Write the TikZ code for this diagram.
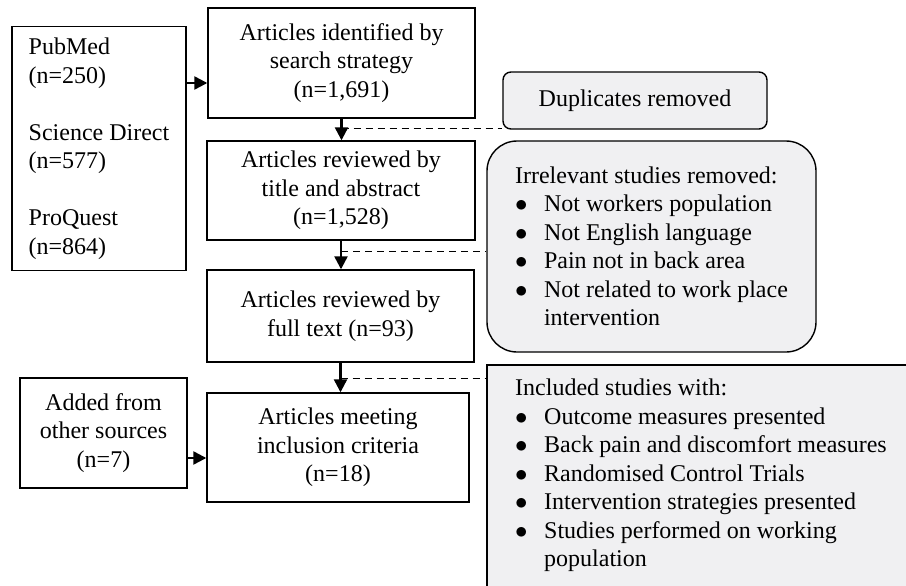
\documentclass[tikz,border=0pt]{standalone}
\usepackage{fontspec}
\setmainfont{Liberation Serif}
\usetikzlibrary{arrows.meta,calc}
\definecolor{boxgrey}{RGB}{240,240,242}
\newcommand\bulitem{\hspace*{0pt}\makebox[29pt][l]{$\bullet$}}
\begin{document}
\begin{tikzpicture}[x=1pt,y=-1pt,
  every node/.style={font=\fontsize{24}{28.5}\selectfont, inner sep=0pt},
  plain/.style={draw, line width=1.4pt, align=center},
  greybox/.style={draw, line width=1.4pt, fill=boxgrey},
  arr/.style={line width=2.4pt, -{Triangle[length=13pt,width=13pt]}},
  dsh/.style={line width=1.3pt, dash pattern=on 7pt off 5pt}]
\useasboundingbox (0,0) rectangle (906,586);

% left column and main flow
\node[plain, minimum width=174pt, minimum height=244pt, align=left] (src) at (99,148.5)
  {PubMed\\(n=250)\\[28.5pt]Science Direct\\(n=577)\\[28.5pt]ProQuest\\(n=864)};
\node[plain, minimum width=267pt, minimum height=110pt] (b1) at (341.5,63)
  {Articles identified by\\search strategy\\(n=1,691)};
\node[plain, minimum width=268pt, minimum height=99pt] (b2) at (341,190.5)
  {Articles reviewed by\\title and abstract\\(n=1,528)};
\node[plain, minimum width=267pt, minimum height=92pt] (b3) at (340.5,316)
  {Articles reviewed by\\full text (n=93)};
\node[plain, minimum width=262pt, minimum height=109pt] (b4) at (338,447.5)
  {Articles meeting\\inclusion criteria\\(n=18)};
\node[plain, minimum width=167pt, minimum height=110pt] (add) at (103.5,433)
  {Added from\\other sources\\(n=7)};

% right column
\node[greybox, rounded corners=8pt, minimum width=264pt, minimum height=57pt] (dup) at (635,100.5)
  {Duplicates removed};
\node[greybox, rounded corners=30pt, minimum width=329pt, minimum height=211pt, align=left] (irr) at (651.5,246.5)
  {Irrelevant studies removed:\\
   \bulitem Not workers population\\
   \bulitem Not English language\\
   \bulitem Pain not in back area\\
   \bulitem Not related to work place\\
   \hspace*{29pt}intervention};
\node[fill=boxgrey, draw=none, anchor=north west, minimum width=430pt, minimum height=230pt] (incbox) at (487,365) {};
\draw[line width=1.4pt] (incbox.north east) -- (incbox.north west) -- (incbox.south west);
\node[anchor=north west, align=left] (inc) at (515,379)
  {Included studies with:\\
   \bulitem Outcome measures presented\\
   \bulitem Back pain and discomfort measures\\
   \bulitem Randomised Control Trials\\
   \bulitem Intervention strategies presented\\
   \bulitem Studies performed on working\\
   \hspace*{29pt}population};

% arrows
\draw[arr] ($(src.east |- b1.west)+(0,20)$) -- ($(b1.west)+(0,20)$);
\draw[arr] (b1.south) -- (b1.south |- b2.north);
\draw[arr] (b2.south) -- (b2.south |- b3.north);
\draw[arr] (b3.south) -- (b3.south |- b4.north);
\draw[arr] ($(add.east |- b4.west)+(0,10.5)$) -- ($(b4.west)+(0,10.5)$);

% dashed links
\coordinate (d1) at ($(b1.south)+(0,10)$);
\coordinate (d2) at ($(b2.south)+(0,11)$);
\coordinate (d3) at ($(b3.south)+(0,16)$);
\draw[dsh] (d1) -- (d1 -| dup.west);
\draw[dsh] (d2) -- (d2 -| irr.west);
\draw[dsh] (d3) -- (d3 -| incbox.west);
\end{tikzpicture}
\end{document}
